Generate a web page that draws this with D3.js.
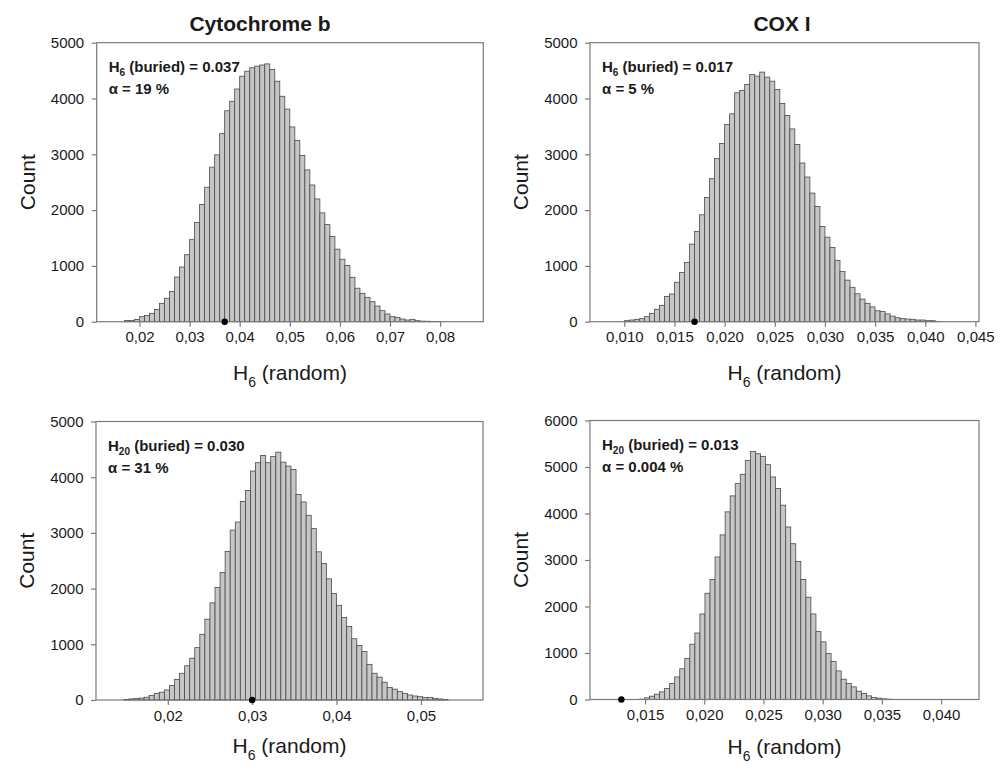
<!DOCTYPE html>
<html>
<head>
<meta charset="utf-8">
<script src="https://cdn.jsdelivr.net/npm/d3@7"></script>
<style>
  body { margin: 0; background: #fff; }
  svg { display: block; font-family: "Liberation Sans", Arial, sans-serif; }
</style>
</head>
<body>
<div id="chart"></div>
<script>
// --- data ---

// Cytochrome b, H6 (random): bins of 0.001 starting at 0.017
const cytbH6Bins = [0.017, 0.001];
const cytbH6Counts = [
  20, 20, 40, 90, 110, 150, 220, 330, 420, 540,
  800, 980, 1200, 1470, 1780, 2100, 2410, 2770, 2990, 3370,
  3780, 3950, 4170, 4400, 4490, 4550, 4580, 4600, 4620, 4520,
  4310, 4040, 3810, 3490, 3250, 2980, 2720, 2450, 2200, 1950,
  1740, 1527, 1300, 1120, 1006, 796, 600, 509, 437, 359,
  281, 198, 138, 90, 78, 48, 30, 42, 18, 10,
  8, 6, 4
];

// COX I, H6 (random): bins of 0.0005 starting at 0.010
const coxH6Bins = [0.0100, 0.0005];
const coxH6Counts = [
  18, 30, 42, 54, 90, 150, 222, 293, 450, 497,
  707, 880, 1060, 1390, 1617, 1916, 2228, 2563, 2922, 3192,
  3533, 3725, 4102, 4144, 4251, 4431, 4401, 4473, 4383, 4311,
  4162, 3910, 3695, 3455, 3174, 2844, 2593, 2305, 2066, 1707,
  1515, 1329, 1100, 898, 745, 617, 500, 405, 330, 265,
  195, 185, 140, 100, 70, 54, 48, 42, 30, 30,
  18, 18, 6
];

// Cytochrome b, H20 (random): bins of 0.0006 starting at 0.0148
const cytbH20Bins = [0.0148, 0.0006];
const cytbH20Counts = [
  10, 20, 25, 35, 50, 80, 120, 140, 180, 260,
  370, 480, 615, 750, 940, 1180, 1450, 1745, 2020, 2290,
  2665, 3050, 3195, 3566, 3763, 4110, 4260, 4390, 4260, 4373,
  4450, 4270, 4200, 4140, 3690, 3555, 3315, 3077, 2660, 2450,
  2175, 1910, 1700, 1480, 1320, 1100, 980, 870, 640, 480,
  410, 320, 225, 195, 150, 120, 90, 72, 60, 42,
  48, 30, 18, 10
];

// COX I, H20 (random): bins of 0.000426 starting at 0.01452
const coxH20Bins = [0.01452, 0.000426];
const coxH20Counts = [
  7, 36, 71, 114, 164, 236, 343, 486, 660, 885,
  1190, 1430, 1840, 2285, 2580, 3065, 3540, 4036, 4379, 4643,
  4843, 5143, 5336, 5286, 5229, 5050, 4786, 4536, 4179, 3710,
  3350, 2970, 2580, 2200, 1840, 1460, 1240, 990, 820, 614,
  436, 343, 271, 179, 129, 79, 43, 29, 14, 7
];

// observed (buried) values shown as dots on the axis
const buriedValues = [0.037, 0.017, 0.030, 0.013];
const buriedLabels = ["0.037", "0.017", "0.030", "0.013"];
const buriedIndex = ["6", "6", "20", "20"];
const alphaLabels = ["α = 19 %", "α = 5 %", "α = 31 %", "α = 0.004 %"];

// axis ranges and ticks
const xDomains = [[0.01146, 0.08862], [0.00658, 0.04536], [0.0115, 0.05735], [0.01035, 0.0432]];
const xTicks = [
  [0.02, 0.03, 0.04, 0.05, 0.06, 0.07, 0.08],
  [0.010, 0.015, 0.020, 0.025, 0.030, 0.035, 0.040, 0.045],
  [0.02, 0.03, 0.04, 0.05],
  [0.015, 0.020, 0.025, 0.030, 0.035, 0.040]
];
const xFormats = [".2f", ".3f", ".2f", ".3f"];
const yMax = [5000, 5000, 5000, 6000];
const yTicks = [
  [0, 1000, 2000, 3000, 4000, 5000],
  [0, 1000, 2000, 3000, 4000, 5000],
  [0, 1000, 2000, 3000, 4000, 5000],
  [0, 1000, 2000, 3000, 4000, 5000, 6000]
];
const columnTitles = ["Cytochrome b", "COX I"];

// --- layout ---
const W = 1003, H = 765;
const panels = [
  { left: 96.7, top: 42.7, width: 386.6, height: 279, xLabelDy: 58, bins: cytbH6Bins, counts: cytbH6Counts },
  { left: 590, top: 42.7, width: 389, height: 279, xLabelDy: 58, bins: coxH6Bins, counts: coxH6Counts },
  { left: 96, top: 421.5, width: 387, height: 278.5, xLabelDy: 53, bins: cytbH20Bins, counts: cytbH20Counts },
  { left: 590, top: 420.5, width: 389, height: 279, xLabelDy: 54, bins: coxH20Bins, counts: coxH20Counts }
];
const titleX = [260, 782];

const svg = d3.select("#chart")
  .append("svg")
  .attr("width", W)
  .attr("height", H);

svg.append("rect").attr("width", W).attr("height", H).attr("fill", "#fff");

// column titles
columnTitles.forEach((t, i) => {
  svg.append("text")
    .attr("x", titleX[i])
    .attr("y", 31)
    .attr("text-anchor", "middle")
    .attr("font-size", 21)
    .attr("font-weight", "bold")
    .attr("fill", "#1a1a1a")
    .text(t);
});

panels.forEach((p, i) => {
  const g = svg.append("g").attr("transform", `translate(${p.left},${p.top})`);

  const x = d3.scaleLinear().domain(xDomains[i]).range([0, p.width]);
  const y = d3.scaleLinear().domain([0, yMax[i]]).range([p.height, 0]);

  const [start, step] = p.bins;
  const bins = p.counts.map((c, k) => ({ x0: start + k * step, x1: start + (k + 1) * step, c }));

  // bars
  g.selectAll("rect.bar")
    .data(bins)
    .join("rect")
    .attr("class", "bar")
    .attr("x", d => x(d.x0))
    .attr("width", d => x(d.x1) - x(d.x0))
    .attr("y", d => y(d.c))
    .attr("height", d => y(0) - y(d.c))
    .attr("fill", "#c6c6c6")
    .attr("stroke", "#4a4a4a")
    .attr("stroke-width", 0.8);

  // frame
  g.append("rect")
    .attr("width", p.width)
    .attr("height", p.height)
    .attr("fill", "none")
    .attr("stroke", "#7a7a7a")
    .attr("stroke-width", 1.2);

  // axes
  const fmt = d3.format(xFormats[i]);
  const xAxis = g.append("g")
    .attr("transform", `translate(0,${p.height})`)
    .call(d3.axisBottom(x)
      .tickValues(xTicks[i])
      .tickSize(5)
      .tickSizeOuter(0)
      .tickPadding(5)
      .tickFormat(d => fmt(d).replace(".", ",")));

  const yAxis = g.append("g")
    .call(d3.axisLeft(y)
      .tickValues(yTicks[i])
      .tickSize(5)
      .tickSizeOuter(0)
      .tickPadding(7.5)
      .tickFormat(d3.format("d")));

  [xAxis, yAxis].forEach(a => {
    a.select(".domain").remove();
    a.selectAll(".tick line").attr("stroke", "#7a7a7a").attr("stroke-width", 1.2);
    a.selectAll(".tick text")
      .attr("font-size", 15)
      .attr("font-family", "'Liberation Sans', Arial, sans-serif")
      .attr("fill", "#1a1a1a");
  });

  // observed value dot
  g.append("circle")
    .attr("cx", x(buriedValues[i]))
    .attr("cy", y(0))
    .attr("r", 3.2)
    .attr("fill", "#000");

  // annotation
  const ann = g.append("text")
    .attr("x", 12)
    .attr("y", 29)
    .attr("font-size", 15)
    .attr("font-weight", "bold")
    .attr("fill", "#1a1a1a");
  ann.append("tspan").text("H");
  ann.append("tspan").attr("dy", 4).attr("font-size", 10).text(buriedIndex[i]);
  ann.append("tspan").attr("dy", -4).text(` (buried) = ${buriedLabels[i]}`);

  g.append("text")
    .attr("x", 12)
    .attr("y", 51)
    .attr("font-size", 15)
    .attr("font-weight", "bold")
    .attr("fill", "#1a1a1a")
    .text(alphaLabels[i]);

  // x label
  const xl = g.append("text")
    .attr("x", p.width / 2)
    .attr("y", p.height + p.xLabelDy)
    .attr("text-anchor", "middle")
    .attr("font-size", 21)
    .attr("fill", "#1a1a1a");
  xl.append("tspan").text("H");
  xl.append("tspan").attr("dy", 7).attr("font-size", 14).text("6");
  xl.append("tspan").attr("dy", -7).text(" (random)");

  // y label
  g.append("text")
    .attr("transform", `translate(-62,${p.height / 2}) rotate(-90)`)
    .attr("text-anchor", "middle")
    .attr("font-size", 21)
    .attr("fill", "#1a1a1a")
    .text("Count");
});
</script>
</body>
</html>
